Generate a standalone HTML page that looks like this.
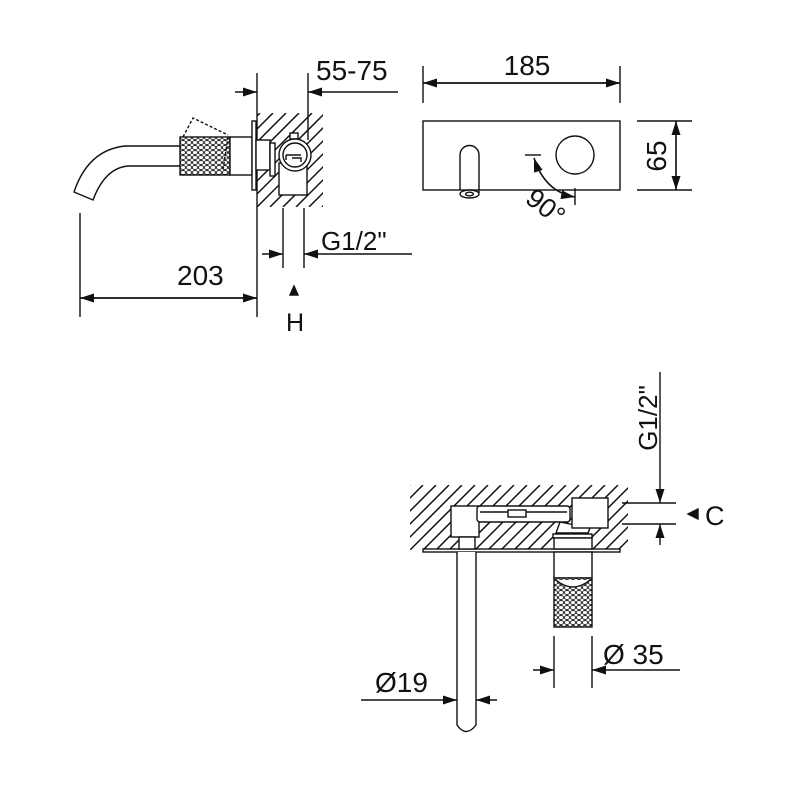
<!DOCTYPE html>
<html><head><meta charset="utf-8"><style>
html,body{margin:0;padding:0;background:#fff}
svg{display:block}
text{font-family:"Liberation Sans","DejaVu Sans",sans-serif;fill:#111}
</style></head><body>
<svg width="800" height="800" viewBox="0 0 800 800" xmlns="http://www.w3.org/2000/svg">
<defs>
<clipPath id="c1"><rect x="257" y="113" width="66" height="94"/></clipPath>
<clipPath id="c2"><rect x="410" y="485" width="218" height="65"/></clipPath>
<pattern id="k" width="6" height="5" patternUnits="userSpaceOnUse">
<rect width="6" height="5" fill="#fff"/>
<ellipse cx="3" cy="2.5" rx="2.6" ry="2" fill="none" stroke="#222" stroke-width="0.9"/>
</pattern>
<marker id="a" markerWidth="14" markerHeight="9" refX="14" refY="4.5" orient="auto" markerUnits="userSpaceOnUse">
<path d="M0,0 L14,4.5 L0,9 z" fill="#111"/>
</marker>
</defs>
<g stroke="#111" stroke-width="1.5" clip-path="url(#c1)">
<path d="M166,207L260,113M179,207L273,113M192,207L286,113M205,207L299,113M218,207L312,113M231,207L325,113M244,207L338,113M257,207L351,113M270,207L364,113M283,207L377,113M296,207L390,113M309,207L403,113M322,207L416,113"/>
</g>
<g stroke="#111" stroke-width="1.5" clip-path="url(#c2)">
<path d="M345,550L410,485M358,550L423,485M371,550L436,485M384,550L449,485M397,550L462,485M410,550L475,485M423,550L488,485M436,550L501,485M449,550L514,485M462,550L527,485M475,550L540,485M488,550L553,485M501,550L566,485M514,550L579,485M527,550L592,485M540,550L605,485M553,550L618,485M566,550L631,485M579,550L644,485M592,550L657,485M605,550L670,485M618,550L683,485"/>
</g>
<g stroke="#111" stroke-width="1.4" fill="none">

<!-- ===== TOP LEFT ===== -->
<line x1="257" y1="73" x2="257" y2="317"/>
<line x1="308" y1="73" x2="308" y2="140"/>
<line x1="235" y1="92" x2="257" y2="92" marker-end="url(#a)"/>
<line x1="398" y1="92" x2="308" y2="92" marker-end="url(#a)"/>
<path d="M180,146 L125,146 Q88,150 74,192 L93,200 Q105,168 128,166 L180,166" fill="#fff"/>
<rect x="180" y="137" width="50" height="38" fill="url(#k)"/>
<path d="M183,137 L193,118 L228,135" stroke-dasharray="3,2"/>
<path d="M228,137 L223,170" stroke-dasharray="3,2"/>
<rect x="230" y="137" width="22" height="38" fill="#fff"/>
<rect x="252" y="121" width="4" height="69" fill="#fff"/>
<rect x="256" y="140" width="14" height="30" fill="#fff"/>
<rect x="270" y="143" width="5" height="33" fill="#fff"/>
<rect x="279" y="163" width="28" height="32" fill="#fff"/>
<rect x="290" y="133" width="8" height="6" fill="#fff"/>
<circle cx="295" cy="155" r="16" fill="#fff"/>
<circle cx="295" cy="155" r="12"/>
<path d="M286,155 L301,155 M286,155 L286,160 M292,158 L301,158 L301,162"/>
<line x1="283" y1="208" x2="283" y2="268"/>
<line x1="304" y1="208" x2="304" y2="268"/>
<line x1="262" y1="254" x2="283" y2="254" marker-end="url(#a)"/>
<line x1="412" y1="254" x2="304" y2="254" marker-end="url(#a)"/>
<path d="M294,286 L298,295 L290,295 z" fill="#111"/>
<line x1="80" y1="213" x2="80" y2="317"/>
<line x1="80" y1="298" x2="257" y2="298" marker-end="url(#a)"/>
<line x1="257" y1="298" x2="80" y2="298" marker-end="url(#a)"/>

<!-- ===== TOP RIGHT ===== -->
<line x1="423" y1="66" x2="423" y2="103"/>
<line x1="620" y1="66" x2="620" y2="103"/>
<line x1="423" y1="83" x2="620" y2="83" marker-end="url(#a)"/>
<line x1="620" y1="83" x2="423" y2="83" marker-end="url(#a)"/>
<rect x="423" y="121" width="197" height="69"/>
<path d="M460,190 L460,155 A9.5,9.5 0 0 1 479,155 L479,193"/>
<ellipse cx="469.5" cy="194" rx="9.5" ry="4" fill="#fff"/>
<ellipse cx="469.5" cy="194" rx="4" ry="1.8"/>
<circle cx="575" cy="155" r="19"/>
<line x1="525" y1="155" x2="541" y2="155"/>
<path d="M575,197 Q545,192 534,158" marker-end="url(#a)"/>
<path d="M534,158 Q545,192 575,197" marker-end="url(#a)"/>
<line x1="575" y1="188" x2="575" y2="205"/>
<line x1="637" y1="121" x2="692" y2="121"/>
<line x1="637" y1="190" x2="692" y2="190"/>
<line x1="676" y1="121" x2="676" y2="190" marker-end="url(#a)"/>
<line x1="676" y1="190" x2="676" y2="121" marker-end="url(#a)"/>

<!-- ===== BOTTOM ===== -->
<rect x="423" y="549" width="197" height="3" fill="#fff"/>
<rect x="451" y="506" width="28" height="31" fill="#fff"/>
<rect x="459" y="537" width="16" height="12" fill="#fff"/>
<path d="M457,552 L457,725 Q466,738 476,725 L476,552" fill="#fff"/>
<rect x="477" y="506" width="93" height="16" rx="3" fill="#fff"/>
<line x1="480" y1="512" x2="567" y2="512"/>
<rect x="508" y="510" width="18" height="7" fill="#fff"/>
<path d="M560,522 L590,528 L588,533 L556,533 z" fill="#fff"/>
<rect x="572" y="498" width="36" height="30" fill="#fff"/>
<rect x="553" y="534" width="39" height="4" fill="#fff"/>
<rect x="554" y="538" width="38" height="11" fill="#fff"/>
<rect x="554" y="552" width="38" height="26" fill="#fff"/>
<rect x="554" y="578" width="38" height="49" fill="url(#k)"/>
<path d="M556,580 Q573,594 590,580" fill="#fff"/>
<line x1="660" y1="372" x2="660" y2="503" marker-end="url(#a)"/>
<line x1="660" y1="545" x2="660" y2="524" marker-end="url(#a)"/>
<line x1="622" y1="503" x2="676" y2="503"/>
<line x1="622" y1="524" x2="676" y2="524"/>
<path d="M688,514 L698,509 L698,519 z" fill="#111"/>
<line x1="554" y1="636" x2="554" y2="688"/>
<line x1="592" y1="636" x2="592" y2="688"/>
<line x1="533" y1="670" x2="554" y2="670" marker-end="url(#a)"/>
<line x1="680" y1="670" x2="592" y2="670" marker-end="url(#a)"/>
<line x1="361" y1="700" x2="457" y2="700" marker-end="url(#a)"/>
<line x1="497" y1="700" x2="476" y2="700" marker-end="url(#a)"/>
</g>

<g font-size="28">
<text x="316" y="80">55-75</text>
<text x="527" y="75" text-anchor="middle">185</text>
<text x="177" y="285">203</text>
<text x="321" y="250" font-size="26">G1/2"</text>
<text x="286" y="331" font-size="25">H</text>
<text transform="translate(666,156) rotate(-90)" text-anchor="middle">65</text>
<text transform="translate(540,214) rotate(38)" text-anchor="middle" font-size="27">90°</text>
<text transform="translate(657,418) rotate(-90)" text-anchor="middle" font-size="26">G1/2"</text>
<text x="705" y="525" font-size="27">C</text>
<text x="603" y="664">Ø 35</text>
<text x="375" y="692">Ø19</text>
</g>
</svg>
</body></html>
